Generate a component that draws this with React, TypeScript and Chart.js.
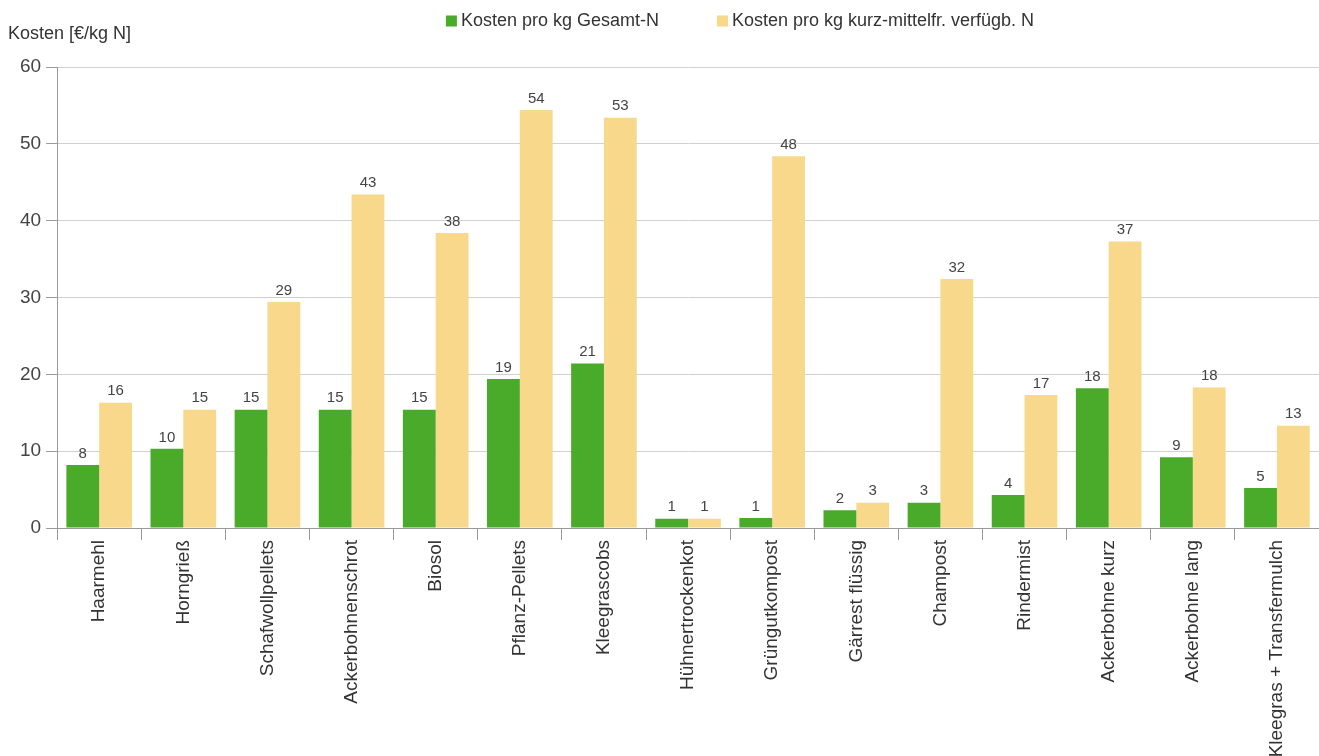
import React, { useEffect, useRef } from "react";
import { Chart, registerables } from "chart.js";

Chart.register(...registerables);

const categories = [
  "Haarmehl",
  "Horngrieß",
  "Schafwollpellets",
  "Ackerbohnenschrot",
  "Biosol",
  "Pflanz-Pellets",
  "Kleegrascobs",
  "Hühnertrockenkot",
  "Grüngutkompost",
  "Gärrest flüssig",
  "Champost",
  "Rindermist",
  "Ackerbohne kurz",
  "Ackerbohne lang",
  "Kleegras + Transfermulch",
];

const kostenGesamtN = [8.2, 10.3, 15.4, 15.4, 15.4, 19.4, 21.4, 1.2, 1.3, 2.3, 3.3, 4.3, 18.2, 9.2, 5.2];
const kostenVerfuegbN = [16.3, 15.4, 29.4, 43.4, 38.4, 54.4, 53.4, 1.2, 48.4, 3.3, 32.4, 17.3, 37.3, 18.3, 13.3];

const seriesNames = ["Kosten pro kg Gesamt-N", "Kosten pro kg kurz-mittelfr. verfügb. N"];
const yTitle = "Kosten [€/kg N]";
const yTicks = [0, 10, 20, 30, 40, 50, 60];

const GREEN = "#4aab2b";
const YELLOW = "#f8d88b";
const SANS = "'Liberation Sans', Arial, sans-serif";

const valueLabelPlugin = {
  id: "valueLabels",
  afterDatasetsDraw(chart: any) {
    const { ctx } = chart;
    ctx.save();
    ctx.font = `15px ${SANS}`;
    ctx.fillStyle = "#444";
    ctx.textAlign = "center";
    ctx.textBaseline = "bottom";
    chart.data.datasets.forEach((ds: any, di: number) => {
      const meta = chart.getDatasetMeta(di);
      meta.data.forEach((bar: any, i: number) => {
        ctx.fillText(String(Math.round(ds.data[i])), bar.x, bar.y - 4);
      });
    });
    ctx.restore();
  },
};

const headerPlugin = {
  id: "header",
  afterDraw(chart: any) {
    const { ctx } = chart;
    ctx.save();
    ctx.font = `18px ${SANS}`;
    ctx.fillStyle = "#333";
    ctx.textBaseline = "middle";
    ctx.textAlign = "left";
    ctx.fillText(yTitle, 8, 34);

    // legend
    const box = 11;
    const gap = 4;
    const itemGap = 58;
    const widths = chart.data.datasets.map((ds: any) => ctx.measureText(ds.label).width);
    const total = widths.reduce((a: number, w: number) => a + box + gap + w, 0) + itemGap * (widths.length - 1);
    let x = 740 - total / 2;
    const y = 21;
    chart.data.datasets.forEach((ds: any, i: number) => {
      ctx.fillStyle = ds.backgroundColor;
      ctx.fillRect(x, y - box / 2, box, box);
      ctx.fillStyle = "#333";
      ctx.fillText(ds.label, x + box + gap, y);
      x += box + gap + widths[i] + itemGap;
    });
    ctx.restore();
  },
};

export default function App() {
  const ref = useRef<HTMLCanvasElement>(null);

  useEffect(() => {
    document.body.style.margin = "0";
    const chart = new Chart(ref.current!, {
      type: "bar",
      data: {
        labels: categories,
        datasets: [
          { label: seriesNames[0], data: kostenGesamtN, backgroundColor: GREEN },
          { label: seriesNames[1], data: kostenVerfuegbN, backgroundColor: YELLOW },
        ],
      },
      options: {
        animation: false,
        responsive: true,
        maintainAspectRatio: false,
        layout: { padding: { top: 67, left: 15, right: 0, bottom: 0 } },
        datasets: { bar: { categoryPercentage: 0.78, barPercentage: 1 } } as any,
        plugins: {
          legend: { display: false },
          tooltip: { enabled: false },
          title: { display: false },
        },
        scales: {
          x: {
            afterFit(axis: any) {
              axis.height = 228;
            },
            grid: {
              offset: true,
              drawOnChartArea: false,
              drawTicks: true,
              tickLength: 12,
              color: "#9a9a9a",
            },
            border: { color: "#9a9a9a" },
            ticks: {
              minRotation: 90,
              maxRotation: 90,
              autoSkip: false,
              color: "#333",
              padding: 0,
              font: { family: SANS, size: 19 },
            },
          },
          y: {
            min: 0,
            max: 60,
            afterBuildTicks(axis: any) {
              axis.ticks = yTicks.map((v) => ({ value: v }));
            },
            grid: {
              color: "#d0d0d0",
              tickLength: 11,
              tickColor: "#9a9a9a",
            },
            border: { color: "#9a9a9a" },
            ticks: {
              color: "#444",
              padding: 5,
              font: { family: SANS, size: 19 },
            },
          },
        },
      },
      plugins: [valueLabelPlugin, headerPlugin],
    });
    return () => chart.destroy();
  }, []);

  return (
    <div style={{ width: 1319, height: 756, position: "relative", background: "#fff" }}>
      <canvas ref={ref} />
    </div>
  );
}
